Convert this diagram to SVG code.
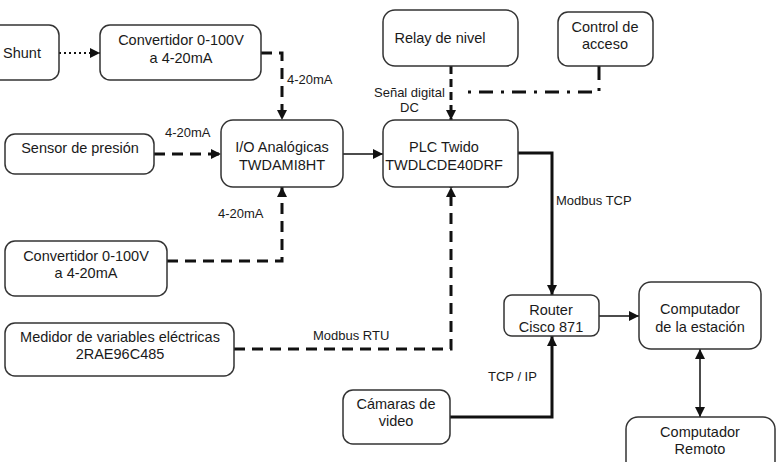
<svg xmlns="http://www.w3.org/2000/svg" width="777" height="462" viewBox="0 0 777 462">
  <defs>
    <marker id="arr" viewBox="0 0 10 10" refX="10" refY="5" markerWidth="10" markerHeight="10" markerUnits="userSpaceOnUse" orient="auto-start-reverse">
      <path d="M0,0 L10,5 L0,10 z" fill="#111"/>
    </marker>
  </defs>
  <style>
    .box { fill: #fff; stroke: #333; stroke-width: 1.5; }
    .t { font-family: "Liberation Sans", Arial, sans-serif; font-size: 14.5px; fill: #1a1a1a; text-anchor: middle; }
    .lbl { font-family: "Liberation Sans", Arial, sans-serif; font-size: 13px; fill: #1a1a1a; }
    .ln { fill: none; stroke: #111; }
    .dash { stroke-width: 3; stroke-dasharray: 11 7; }
    .thin { stroke-width: 1.5; }
    .thick { stroke-width: 3; }
  </style>
  <rect width="777" height="462" fill="#fff"/>

  <!-- connectors -->
  <g id="connectors">
    <path class="ln" d="M59,53 L100,53" stroke-width="2" stroke-dasharray="2 3" marker-end="url(#arr)"/>
    <path class="ln dash" d="M261,53 L282,53 L282,120" marker-end="url(#arr)"/>
    <path class="ln dash" d="M154,154 L221,154" marker-end="url(#arr)"/>
    <path class="ln dash" d="M167,261 L282,261 L282,187" marker-end="url(#arr)"/>
    <path class="ln dash" d="M234,349 L451,349 L451,187" marker-end="url(#arr)"/>
    <path class="ln thin" d="M343,154 L383,154" marker-end="url(#arr)"/>
    <path class="ln" d="M451,66 L451,120" stroke-width="3" stroke-dasharray="8 5" marker-end="url(#arr)"/>
    <path class="ln thick" d="M599,66 L599,92 L460,92" stroke-dasharray="14 8 3 8"/>
    <path class="ln thick" d="M518,153 L552,153 L552,295" marker-end="url(#arr)"/>
    <path class="ln thick" d="M450,417 L552,417 L552,336" marker-end="url(#arr)"/>
    <path class="ln thin" d="M599,316 L639,316" marker-end="url(#arr)"/>
    <path class="ln thin" d="M700,349 L700,417" marker-start="url(#arr)" marker-end="url(#arr)"/>
    <text class="lbl" x="287" y="84">4-20mA</text>
    <text class="lbl" x="165" y="137">4-20mA</text>
    <text class="lbl" x="218" y="218">4-20mA</text>
    <text class="lbl" x="313" y="340">Modbus RTU</text>
    <text class="lbl" x="374" y="97">Señal digital</text>
    <text class="lbl" x="400" y="112">DC</text>
    <text class="lbl" x="556" y="205">Modbus TCP</text>
    <text class="lbl" x="488" y="381">TCP / IP</text>
  </g>

  <g id="shunt">
    <rect class="box" x="-10" y="25" width="69" height="55" rx="10"/>
    <text class="t" x="22" y="58">Shunt</text>
  </g>
  <g id="convertidor-1">
    <rect class="box" x="100" y="25" width="161" height="55" rx="10"/>
    <text class="t" x="181" y="45">Convertidor 0-100V</text>
    <text class="t" x="181" y="63">a 4-20mA</text>
  </g>
  <g id="sensor">
    <rect class="box" x="5" y="134" width="149" height="40" rx="10"/>
    <text class="t" x="80" y="153">Sensor de presión</text>
  </g>
  <g id="io">
    <rect class="box" x="221" y="120" width="122" height="67" rx="12"/>
    <text class="t" x="282" y="152">I/O Analógicas</text>
    <text class="t" x="282" y="170">TWDAMI8HT</text>
  </g>
  <g id="plc">
    <rect class="box" x="383" y="120" width="135" height="67" rx="12"/>
    <text class="t" x="444" y="152">PLC Twido</text>
    <text class="t" x="444" y="170">TWDLCDE40DRF</text>
  </g>
  <g id="relay">
    <rect class="box" x="383" y="10" width="135" height="56" rx="12"/>
    <text class="t" x="440" y="43">Relay de nivel</text>
  </g>
  <g id="control">
    <rect class="box" x="558" y="12" width="95" height="54" rx="10"/>
    <text class="t" x="605" y="32">Control de</text>
    <text class="t" x="605" y="49">acceso</text>
  </g>
  <g id="convertidor-2">
    <rect class="box" x="5" y="241" width="162" height="55" rx="10"/>
    <text class="t" x="86" y="261">Convertidor 0-100V</text>
    <text class="t" x="86" y="278">a 4-20mA</text>
  </g>
  <g id="medidor">
    <rect class="box" x="5" y="323" width="229" height="53" rx="10"/>
    <text class="t" x="120" y="342">Medidor de variables eléctricas</text>
    <text class="t" x="120" y="359">2RAE96C485</text>
  </g>
  <g id="camaras">
    <rect class="box" x="343" y="390" width="107" height="54" rx="10"/>
    <text class="t" x="396" y="409">Cámaras de</text>
    <text class="t" x="396" y="426">video</text>
  </g>
  <g id="router">
    <rect class="box" x="504" y="295" width="95" height="41" rx="8"/>
    <text class="t" x="551" y="315">Router</text>
    <text class="t" x="551" y="332">Cisco 871</text>
  </g>
  <g id="pc-estacion">
    <rect class="box" x="639" y="282" width="122" height="67" rx="12"/>
    <text class="t" x="700" y="314">Computador</text>
    <text class="t" x="700" y="332">de la estación</text>
  </g>
  <g id="pc-remoto">
    <rect class="box" x="626" y="417" width="149" height="60" rx="12"/>
    <text class="t" x="700" y="437">Computador</text>
    <text class="t" x="700" y="454">Remoto</text>
  </g>
</svg>
